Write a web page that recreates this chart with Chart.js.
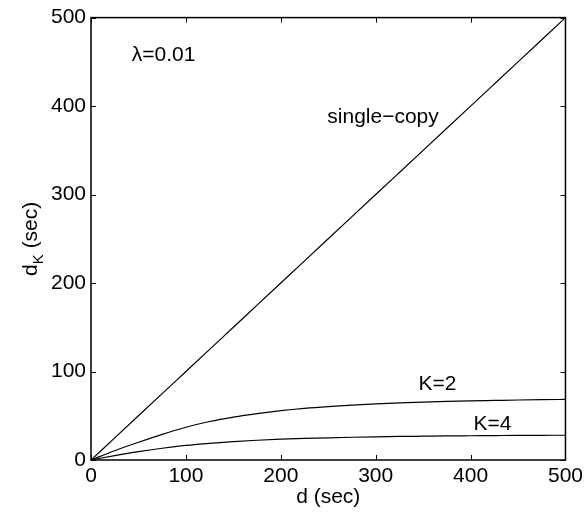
<!DOCTYPE html>
<html>
<head>
<meta charset="utf-8">
<script src="https://cdn.jsdelivr.net/npm/chart.js@4.4.1/dist/chart.umd.min.js"></script>
<style>
  html, body { margin: 0; padding: 0; background: #fff; }
</style>
</head>
<body>
<canvas id="myChart" width="587" height="517"></canvas>
<script>
// values
const dValues    = [0, 25, 50, 75, 100, 125, 150, 175, 200, 225, 250, 275, 300, 325, 350, 375, 400, 425, 450, 475, 500];
const singleCopy = [0, 25, 50, 75, 100, 125, 150, 175, 200, 225, 250, 275, 300, 325, 350, 375, 400, 425, 450, 475, 500];
const k2Values   = [0, 10.5, 20, 29, 37, 43.5, 48.5, 52.5, 55.8, 58.4, 60.4, 62, 63.4, 64.5, 65.4, 66.2, 66.8, 67.3, 67.8, 68.2, 68.5];
const k4Values   = [0, 5, 9.5, 13.3, 16.5, 18.9, 20.8, 22.3, 23.5, 24.4, 25.1, 25.7, 26.2, 26.6, 26.9, 27.2, 27.4, 27.6, 27.8, 27.9, 28];
const tickValues = [0, 100, 200, 300, 400, 500];

// text labels inside the plot, placed in data units
const noteTexts = ['\u03bb=0.01', 'single\u2212copy', 'K=2', 'K=4'];
const noteD     = [43, 249, 345, 403];
const noteV     = [457, 387, 86, 41];

const FONT = '"Liberation Sans", Arial, Helvetica, sans-serif';

const toPoints = (ys) => dValues.map((d, i) => ({ x: d, y: ys[i] }));

const lineStyle = {
  borderColor: '#000',
  borderWidth: 1.2,
  pointRadius: 0,
  fill: false,
  cubicInterpolationMode: 'monotone'
};

// box, inward ticks, y title with subscript, notes
const framePlugin = {
  id: 'frame',
  afterDatasetsDraw(chart) {
    const { ctx, chartArea: a, scales: { x, y } } = chart;
    ctx.save();
    ctx.strokeStyle = '#000';
    ctx.lineWidth = 1.5;
    ctx.strokeRect(a.left, a.top, a.right - a.left, a.bottom - a.top);

    ctx.lineWidth = 1;
    const tl = 5;
    tickValues.forEach(v => {
      const px = Math.round(x.getPixelForValue(v)) + 0.5;
      const py = Math.round(y.getPixelForValue(v)) + 0.5;
      ctx.beginPath();
      ctx.moveTo(px, a.bottom); ctx.lineTo(px, a.bottom - tl);
      ctx.moveTo(px, a.top); ctx.lineTo(px, a.top + tl);
      ctx.moveTo(a.left, py); ctx.lineTo(a.left + tl, py);
      ctx.moveTo(a.right, py); ctx.lineTo(a.right - tl, py);
      ctx.stroke();
    });

    // notes
    ctx.fillStyle = '#000';
    ctx.font = '21px ' + FONT;
    ctx.textAlign = 'left';
    ctx.textBaseline = 'middle';
    noteTexts.forEach((t, i) => {
      ctx.fillText(t, x.getPixelForValue(noteD[i]), y.getPixelForValue(noteV[i]));
    });

    // y axis title: d_K (sec)
    const big = '21px ' + FONT, small = '15px ' + FONT;
    ctx.translate(30, (a.top + a.bottom) / 2);
    ctx.rotate(-Math.PI / 2);
    ctx.textBaseline = 'alphabetic';
    ctx.font = big;
    const w1 = ctx.measureText('d').width;
    const w3 = ctx.measureText(' (sec)').width;
    ctx.font = small;
    const w2 = ctx.measureText('K').width;
    let sx = -(w1 + w2 + w3) / 2;
    const base = 7;
    ctx.font = big;
    ctx.fillText('d', sx, base);
    ctx.font = small;
    ctx.fillText('K', sx + w1, base + 6);
    ctx.font = big;
    ctx.fillText(' (sec)', sx + w1 + w2, base);
    ctx.restore();
  }
};

const config = {
  type: 'line',
  data: {
    datasets: [
      { label: 'single-copy', data: toPoints(singleCopy), ...lineStyle },
      { label: 'K=2', data: toPoints(k2Values), ...lineStyle },
      { label: 'K=4', data: toPoints(k4Values), ...lineStyle }
    ]
  },
  options: {
    responsive: false,
    animation: false,
    layout: { padding: { top: 15, right: 20, left: 0, bottom: 0 } },
    plugins: {
      legend: { display: false },
      tooltip: { enabled: false }
    },
    scales: {
      x: {
        type: 'linear',
        min: 0,
        max: 500,
        afterFit: (s) => { s.height = 57; },
        afterBuildTicks: (s) => { s.ticks = tickValues.map(v => ({ value: v })); },
        grid: { display: false, drawTicks: false },
        border: { display: false },
        ticks: {
          padding: 4,
          color: '#000',
          maxRotation: 0,
          font: { family: FONT, size: 21 }
        },
        title: {
          display: true,
          text: 'd (sec)',
          color: '#000',
          font: { family: FONT, size: 21 },
          padding: { top: 0, bottom: 7 }
        }
      },
      y: {
        type: 'linear',
        min: 0,
        max: 500,
        afterFit: (s) => { s.width = 91; },
        afterBuildTicks: (s) => { s.ticks = tickValues.map(v => ({ value: v })); },
        grid: { display: false, drawTicks: false },
        border: { display: false },
        ticks: {
          padding: 5,
          color: '#000',
          font: { family: FONT, size: 21 }
        }
      }
    }
  },
  plugins: [framePlugin]
};

new Chart('myChart', config);
</script>
</body>
</html>
